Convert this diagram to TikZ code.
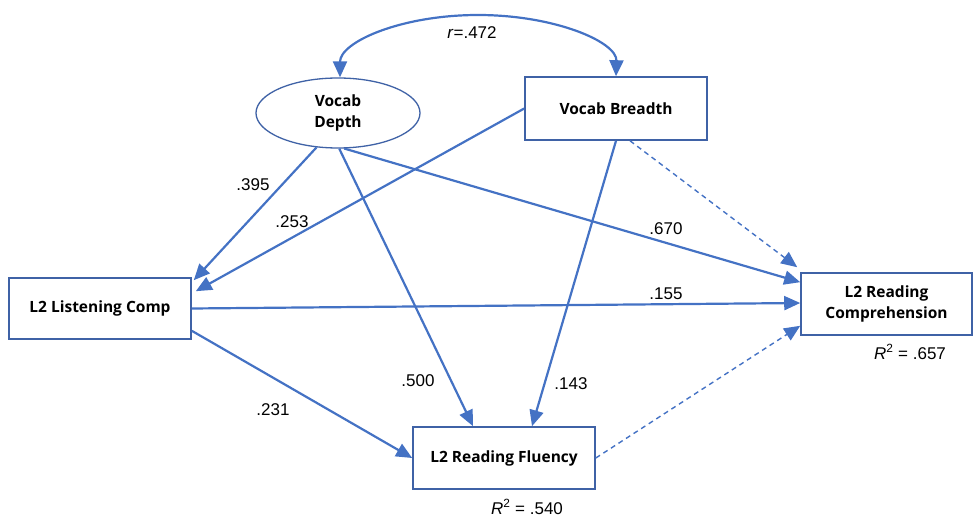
\documentclass[tikz,border=0pt]{standalone}
\usepackage{fontspec}
\setmainfont{Open Sans}
\newfontfamily\labfont{Liberation Sans}
\usetikzlibrary{arrows.meta,shapes.geometric,calc}
\definecolor{arr}{HTML}{4472C4}
\definecolor{bord}{HTML}{3F62A6}
\begin{document}
\begin{tikzpicture}[x=1pt,y=-1pt,
  box/.style={draw=bord,line width=1.6pt,fill=white,rectangle,inner sep=0pt,align=center,
    font=\fontsize{15.5}{21}\selectfont\bfseries},
  oval/.style={draw=bord,line width=1.3pt,fill=white,ellipse,inner sep=0pt,align=center,
    font=\fontsize{15.5}{21}\selectfont\bfseries},
  link/.style={draw=arr,line width=2.2pt,-{Triangle[length=16pt,width=14pt]}},
  dlink/.style={draw=arr,line width=1.4pt,dash pattern=on 5pt off 4pt,-{Triangle[length=16pt,width=14pt]}},
  lbl/.style={font=\labfont\fontsize{17}{20}\selectfont,inner sep=0pt}
]
\useasboundingbox (0,0) rectangle (973,518);
% nodes
\node[oval,minimum width=164pt,minimum height=70pt] (depth) at (338,113) {Vocab\\Depth};
\node[box,minimum width=182pt,minimum height=63pt] (breadth) at (616,108.5) {Vocab Breadth};
\node[box,minimum width=182pt,minimum height=61pt] (listen) at (100,308.5) {L2 Listening Comp};
\node[box,minimum width=171pt,minimum height=62pt] (rc) at (886.5,304) {L2 Reading\\Comprehension};
\node[box,minimum width=182pt,minimum height=62pt] (flu) at (504,458) {L2 Reading Fluency};
% correlation
\coordinate (top) at (478,15);
\draw[draw=arr,line width=2.2pt,{Triangle[length=16pt,width=14pt]}-{Triangle[length=16pt,width=14pt]}]
  ($(depth.north)+(2,0)$) .. controls (340,42) and (401,15) .. (top)
  .. controls (555,15) and (617,42) .. (breadth.north);
\node[lbl] (r) at (472,33) {\textit{r}=.472};
% paths
\draw[link] (depth.238) -- ($(listen.north east)+(2,3)$);
\draw[link] (breadth.west) -- ($(listen.north east)+(4,14)$);
\draw[link] (depth.272) -- ($(flu.north)+(-31,0)$);
\draw[link] (depth.280) -- ($(rc.north west)+(0,10)$);
\draw[link] (breadth.south) -- ($(flu.north)+(28,0)$);
\draw[dlink] ($(breadth.south)+(14,0)$) -- ($(rc.north west)+(-3,-5)$);
\draw[link] (listen.east) -- ($(rc.west)+(0,-1)$);
\draw[link] ($(listen.south east)+(0,-9)$) -- (flu.west);
\draw[dlink] (flu.east) -- ($(rc.south west)+(0,-10)$);
% labels
\node[lbl] (l395) at (253,185) {.395};
\node[lbl] (l253) at (292,222) {.253};
\node[lbl] (l670) at (666,229) {.670};
\node[lbl] (l155) at (666,294) {.155};
\node[lbl] (l500) at (418,381) {.500};
\node[lbl] (l143) at (571,384) {.143};
\node[lbl] (l231) at (273,410) {.231};
\node[lbl] (r2a) at (910,352) {\textit{R}\textsuperscript{2} = .657};
\node[lbl] (r2b) at (527,507) {\textit{R}\textsuperscript{2} = .540};
\end{tikzpicture}
\end{document}
